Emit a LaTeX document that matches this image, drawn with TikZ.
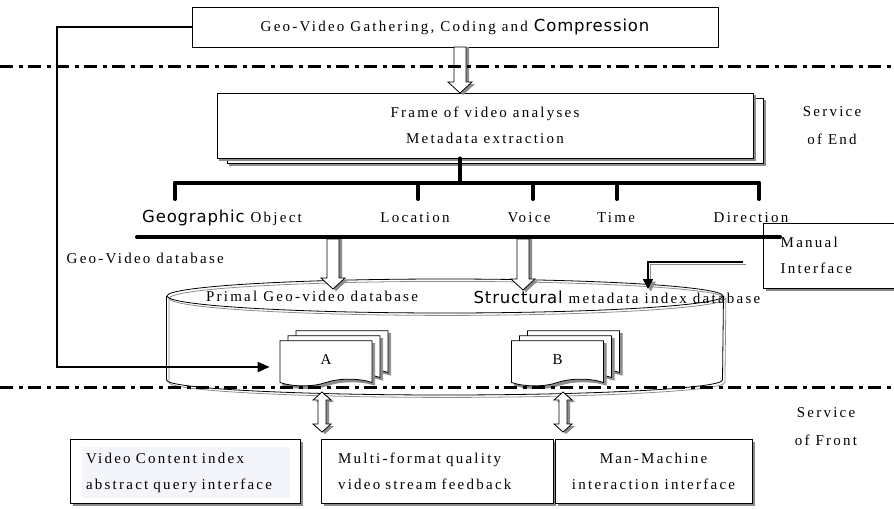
\documentclass[tikz,border=0pt]{standalone}
\usepackage{fontspec}
\setmainfont{Liberation Serif}[LetterSpace=15]
\newfontfamily\sansword{DejaVu Sans}[Scale=1.1,LetterSpace=5]
\usepackage{tikz}
\usetikzlibrary{shapes}
\usetikzlibrary{arrows.meta}
\usetikzlibrary{shadows}

\definecolor{paleblue}{RGB}{244,245,250}

% hollow block arrows: x, top, bottom
\newcommand{\blockdown}[3]{%
  \fill[black!45] (#1-3,#2) -- (#1+9,#2) -- (#1+9,#3-9) -- (#1+15,#3-9) -- (#1+3,#3+2)
    -- (#1-9,#3-9) -- (#1-3,#3-9) -- cycle;
  \draw[fill=white,line width=0.6pt] (#1-6,#2) -- (#1+6,#2) -- (#1+6,#3-11) -- (#1+12,#3-11)
    -- (#1,#3) -- (#1-12,#3-11) -- (#1-6,#3-11) -- cycle;}
\newcommand{\blockboth}[3]{%
  \fill[black!45] (#1+3,#2+2) -- (#1+12,#2+10) -- (#1+7,#2+10) -- (#1+7,#3-6) -- (#1+12,#3-6)
    -- (#1+3,#3+2) -- (#1-6,#3-6) -- (#1-1,#3-6) -- (#1-1,#2+10) -- (#1-6,#2+10) -- cycle;
  \draw[fill=white,line width=0.6pt] (#1,#2) -- (#1+9,#2+8) -- (#1+4,#2+8) -- (#1+4,#3-8)
    -- (#1+9,#3-8) -- (#1,#3) -- (#1-9,#3-8) -- (#1-4,#3-8) -- (#1-4,#2+8) -- (#1-9,#2+8)
    -- cycle;}

\begin{document}
\begin{tikzpicture}[x=0.75pt,y=-0.75pt,font=\fontsize{11.25pt}{19.5pt}\selectfont]
\tikzstyle{box}=[rectangle,draw,fill=white,inner sep=0pt,line width=0.6pt]
\tikzstyle{shadowed}=[drop shadow={shadow xshift=2.25pt,shadow yshift=-2.25pt,
  fill=black!45,opacity=1}]
\tikzstyle{page}=[tape,tape bend top=none,draw,fill=white,line width=0.6pt,
  minimum width=69pt,minimum height=33.75pt,inner sep=0pt,
  general shadow={shadow xshift=14pt,shadow yshift=5.5pt,fill=black!45,draw=black!45},
  general shadow={shadow xshift=12pt,shadow yshift=7.5pt,fill=white,draw=black},
  general shadow={shadow xshift=8pt,shadow yshift=1.75pt,fill=black!45,draw=black!45},
  general shadow={shadow xshift=6pt,shadow yshift=3.75pt,fill=white,draw=black},
  general shadow={shadow xshift=2pt,shadow yshift=-2pt,fill=black!45,draw=black!45}]
\tikzstyle{bus}=[line width=3pt,line cap=round]
\tikzstyle{divider}=[line width=2.25pt,dash pattern=on 10pt off 4pt on 3pt off 4pt]
\useasboundingbox (0,0) rectangle (894,508);

% service of end
\node[box] (gather) at (455,27) [minimum width=394.5pt,minimum height=30pt]
  {Geo-Video Gathering, Coding and {\sansword Compression}};
\node[box,minimum width=402pt,minimum height=48.75pt,align=center,
  general shadow={shadow xshift=9.5pt,shadow yshift=-5.75pt,fill=black!45,draw=black!45},
  general shadow={shadow xshift=7.5pt,shadow yshift=-3.75pt,fill=white,draw=black},
  general shadow={shadow xshift=1.5pt,shadow yshift=-1.5pt,fill=black!45,draw=black!45}]
  (frame) at (485,125.5) {Frame of video analyses\\Metadata extraction};
\node[align=center,font=\fontsize{11.25pt}{21pt}\selectfont] (end) at (832,126)
  {Service\\of End};
\blockdown{460}{47}{93}

% metadata bus
\coordinate (hub) at (460,183);
\draw[bus] (hub |- frame.south) -- (hub);
\draw[bus] (175,183) -- (759,183);
\foreach \x in {175,418,533,617,759}
  \draw[bus] (\x,183) -- (\x,199);

\node[box,shadowed,minimum width=150pt,minimum height=48.75pt,text width=124pt,
  inner xsep=12.75pt,align=left,anchor=west] (manual) at (763,255.5) {Manual\\Interface};

\node (geo obj) at (222,218) {{\sansword Geographic} Object};
\node (location) at (415,218) {Location};
\node (voice) at (529,218) {Voice};
\node (time) at (616,218) {Time};
\node (direction) at (751,218) {Direction};

\coordinate (bus l) at (137,237);
\coordinate (bus r) at (780,237);
\draw[bus] (bus l) -- (bus r);
\node[anchor=west] (gvdb) at (62,258) {Geo-Video database};

% database cylinder
\begin{scope}[transform canvas={shift={(1.8pt,-1.8pt)}},draw=black!45,line width=0.6pt]
\draw (166.5,296) -- (166.5,380) arc[start angle=180,end angle=360,
  x radius=208.5pt,y radius=11.25pt] -- (723.5,296);
\draw (445,296) ellipse[x radius=208.5pt,y radius=12.75pt];
\end{scope}
\draw[line width=0.6pt] (166.5,296) -- (166.5,380) arc[start angle=180,end angle=360,
  x radius=208.5pt,y radius=11.25pt] -- (723.5,296);
\draw[line width=0.6pt] (445,296) ellipse[x radius=208.5pt,y radius=12.75pt];
\node (primal) at (312,296) {Primal Geo-video database};
\node (structural) at (617,297) {{\sansword Structural} metadata index database};

\blockdown{333}{239}{289}
\blockdown{523}{239}{290}

\coordinate (manual in) at (743,262);
\coordinate (index in) at (648,289);
\draw[black!45,line width=1.2pt,transform canvas={shift={(2pt,-2pt)}},
  -{Triangle[width=7.5pt,length=7.5pt]}] (manual in) -| (index in);
\draw[line width=1.2pt,-{Triangle[width=7.5pt,length=7.5pt]}] (manual in) -| (index in);

\node[page] (doc a) at (326,360) {A};
\node[page] (doc b) at (557.5,360) {B};

\coordinate (corner) at (57,367);
\draw[line width=1.5pt,shorten >=7.5pt,-{Triangle[width=7.5pt,length=9pt]}]
  (gather.west) -| (corner) -- (corner -| doc a.west);

% service of front
\blockboth{322}{392}{432}
\blockboth{563}{392}{432}

\node[box,shadowed,minimum width=172.5pt,minimum height=48pt] (query box) at (185,471) {};
\node[fill=paleblue,inner xsep=3pt,inner ysep=0pt,minimum height=38.25pt,text width=150pt,
  align=left] (query) at (186,472.5) {Video Content index\\abstract query interface};
\node[box,shadowed,minimum width=174pt,minimum height=48pt,text width=148.5pt,
  inner xsep=12.75pt,align=left] (stream) at (437,471)
  {Multi-format quality\\video stream feedback};
\node[box,shadowed,minimum width=147.75pt,minimum height=48pt,align=center] (hci)
  at (653.5,471) {Man-Machine\\interaction interface};
\node[align=center,font=\fontsize{11.25pt}{21pt}\selectfont] (front) at (826,427)
  {Service\\of Front};

\coordinate (end l) at (0,66);
\coordinate (end r) at (894,66);
\coordinate (front l) at (0,387);
\coordinate (front r) at (894,387);
\draw[divider] (end l) -- (end r);
\draw[divider] (front l) -- (front r);
\end{tikzpicture}
\end{document}
